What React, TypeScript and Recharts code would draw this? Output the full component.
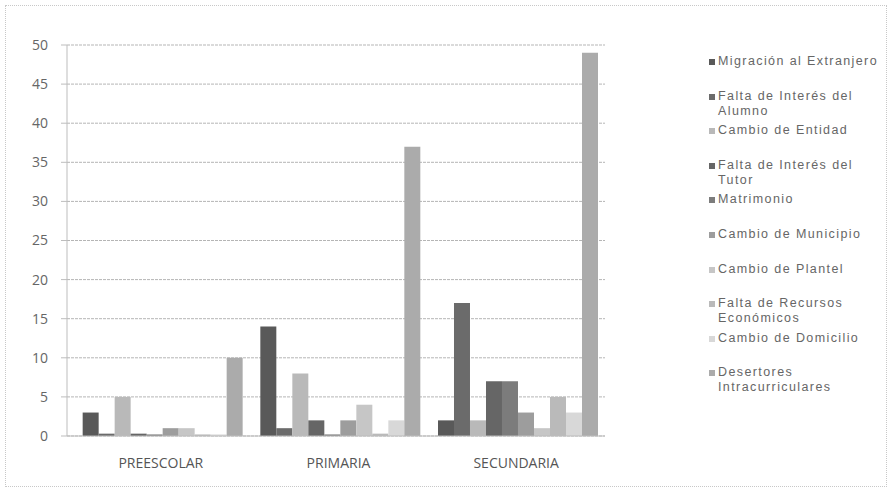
import React from 'react';
import { BarChart, Bar, XAxis, YAxis, CartesianGrid } from 'recharts';

const levels = ['PREESCOLAR', 'PRIMARIA', 'SECUNDARIA'];

const migracion = [3, 14, 2];
const faltaAlumno = [0.3, 1, 17];
const cambioEntidad = [5, 8, 2];
const faltaTutor = [0.3, 2, 7];
const matrimonio = [0.2, 0.2, 7];
const cambioMunicipio = [1, 2, 3];
const cambioPlantel = [1, 4, 1];
const faltaRecursos = [0.2, 0.3, 5];
const cambioDomicilio = [0.2, 2, 3];
const desertores = [10, 37, 49];

const yTicks = [0, 5, 10, 15, 20, 25, 30, 35, 40, 45, 50];

const series = [
  { key: 'migracion', name: 'Migración al Extranjero', values: migracion, color: '#595959' },
  { key: 'faltaAlumno', name: 'Falta de Interés del Alumno', values: faltaAlumno, color: '#6b6b6b' },
  { key: 'cambioEntidad', name: 'Cambio de Entidad', values: cambioEntidad, color: '#b9b9b9' },
  { key: 'faltaTutor', name: 'Falta de Interés del Tutor', values: faltaTutor, color: '#666666' },
  { key: 'matrimonio', name: 'Matrimonio', values: matrimonio, color: '#7c7c7c' },
  { key: 'cambioMunicipio', name: 'Cambio de Municipio', values: cambioMunicipio, color: '#9d9d9d' },
  { key: 'cambioPlantel', name: 'Cambio de Plantel', values: cambioPlantel, color: '#c6c6c6' },
  { key: 'faltaRecursos', name: 'Falta de Recursos Económicos', values: faltaRecursos, color: '#bababa' },
  { key: 'cambioDomicilio', name: 'Cambio de Domicilio', values: cambioDomicilio, color: '#d8d8d8' },
  { key: 'desertores', name: 'Desertores Intracurriculares', values: desertores, color: '#ababab' },
];

const chartData = levels.map((level, i) => {
  const row: Record<string, string | number> = { level };
  series.forEach((s) => {
    row[s.key] = s.values[i];
  });
  return row;
});

const axisFont = '"Open Sans", "Liberation Sans", sans-serif';

function SideLegend() {
  return (
    <div
      style={{
        position: 'absolute',
        left: 709,
        top: 54,
        width: 176,
        fontFamily: '"Liberation Sans", Arial, sans-serif',
        fontSize: 12.5,
        letterSpacing: 1.4,
        color: '#666',
        lineHeight: '15px',
      }}
    >
      {series.map((s) => (
        <div key={s.key} style={{ height: 34.6, display: 'flex', alignItems: 'flex-start' }}>
          <div
            style={{
              width: 6,
              height: 6,
              marginTop: 5,
              marginRight: 3,
              background: s.color,
              flexShrink: 0,
            }}
          />
          <span>{s.name}</span>
        </div>
      ))}
    </div>
  );
}

export default function App() {
  return (
    <div
      style={{
        position: 'fixed',
        left: 0,
        top: 0,
        width: 895,
        height: 491,
        background: '#fff',
      }}
    >
      <div
        style={{
          position: 'absolute',
          left: 5,
          top: 5,
          width: 880,
          height: 480,
          border: '1px dotted #c8c8c8',
        }}
      />
      <BarChart
        width={895}
        height={491}
        data={chartData}
        margin={{ top: 45, right: 290, bottom: 25, left: 0 }}
        barCategoryGap="6%"
        barGap={0}
      >
        <CartesianGrid
          vertical={false}
          stroke="#b5b5b5"
          strokeDasharray="3 1"
        />
        <XAxis
          dataKey="level"
          height={30}
          padding={{ left: 5, right: 0 }}
          tickLine={false}
          tickSize={0}
          tickMargin={22}
          axisLine={{ stroke: '#bdbdbd' }}
          tick={{ fontSize: 14, fill: '#555', fontFamily: axisFont }}
        />
        <YAxis
          width={67}
          domain={[0, 50]}
          ticks={yTicks}
          interval={0}
          tickSize={6}
          tickMargin={13}
          axisLine={{ stroke: '#bdbdbd' }}
          tickLine={{ stroke: '#bdbdbd' }}
          tick={{ fontSize: 14, fill: '#666', fontFamily: axisFont }}
        />
        {series.map((s) => (
          <Bar
            key={s.key}
            dataKey={s.key}
            name={s.name}
            fill={s.color}
            isAnimationActive={false}
          />
        ))}
      </BarChart>
      <SideLegend />
    </div>
  );
}
